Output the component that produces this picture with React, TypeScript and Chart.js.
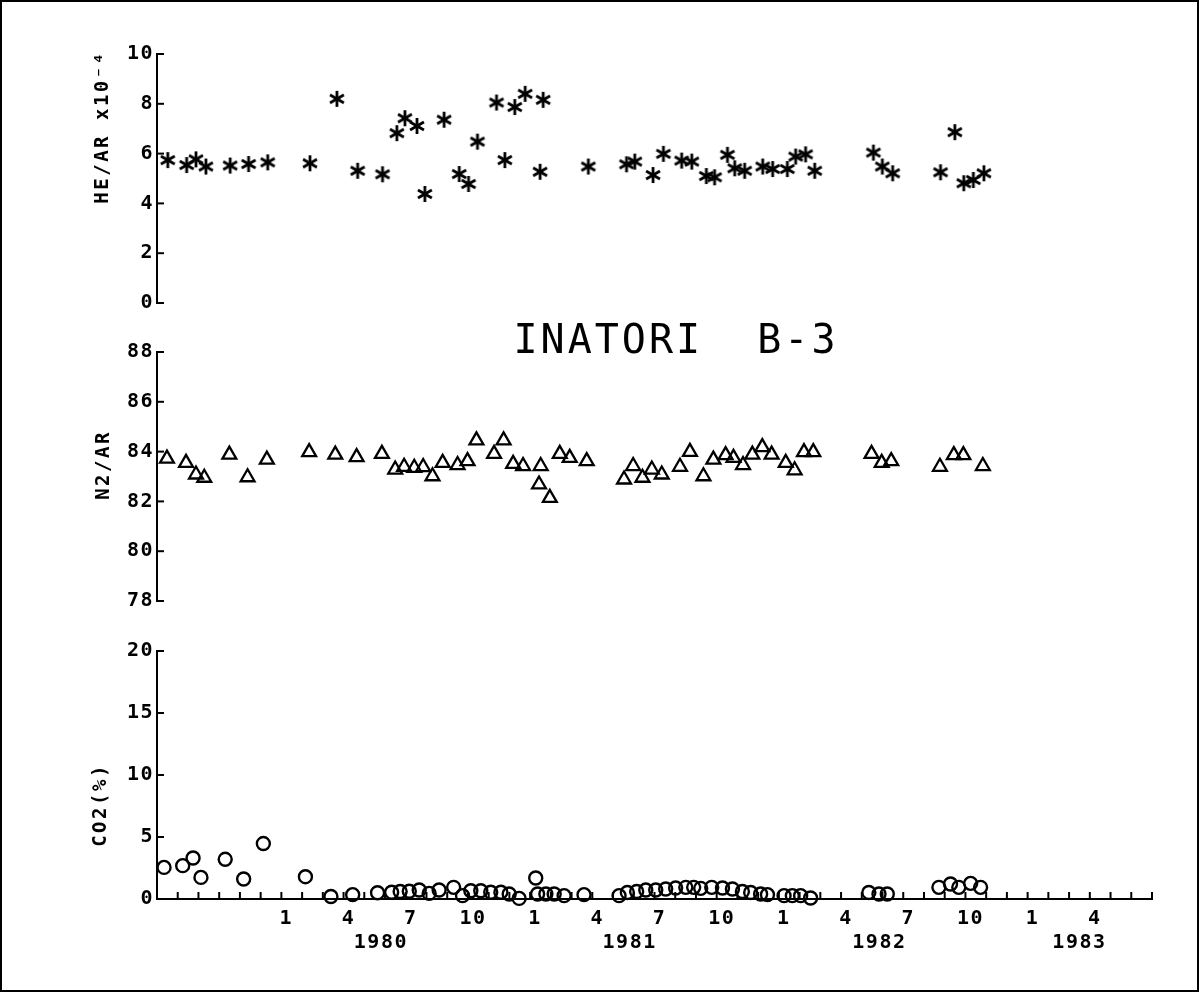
import React, { useEffect, useRef } from 'react';
import { Chart, registerables } from 'chart.js';

Chart.register(...registerables);

// x values are months counted from January 1979 (12 = Jan 1980, 24 = Jan 1981 ...)
const heMonths = [6.52, 7.43, 7.88, 8.36, 9.53, 10.42, 11.34, 13.38, 14.68, 15.68, 16.88, 17.57, 17.96, 18.54, 18.92, 19.85, 20.58, 21.03, 21.46, 22.38, 22.78, 23.26, 23.76, 24.48, 24.63, 26.81, 28.65, 29.05, 29.93, 30.43, 31.31, 31.8, 32.5, 32.9, 33.52, 33.87, 34.35, 35.22, 35.7, 36.41, 36.81, 37.29, 37.73, 40.56, 40.99, 41.49, 43.8, 44.49, 44.92, 45.38, 45.89];
const heRatio = [5.74, 5.54, 5.77, 5.48, 5.52, 5.58, 5.65, 5.61, 8.2, 5.31, 5.17, 6.82, 7.42, 7.11, 4.38, 7.36, 5.18, 4.78, 6.48, 8.05, 5.74, 7.87, 8.4, 5.27, 8.16, 5.48, 5.57, 5.68, 5.14, 5.99, 5.72, 5.68, 5.1, 5.05, 5.95, 5.41, 5.31, 5.48, 5.38, 5.38, 5.88, 5.97, 5.31, 6.04, 5.48, 5.21, 5.25, 6.86, 4.81, 4.94, 5.21];

const n2Months = [6.48, 7.4, 7.88, 8.28, 9.49, 10.37, 11.3, 13.34, 14.6, 15.63, 16.85, 17.49, 17.92, 18.41, 18.84, 19.29, 19.78, 20.5, 20.98, 21.41, 22.26, 22.72, 23.18, 23.66, 24.43, 24.51, 24.95, 25.43, 25.91, 26.73, 28.53, 28.97, 29.42, 29.87, 30.35, 31.23, 31.71, 32.36, 32.84, 33.43, 33.81, 34.27, 34.72, 35.2, 35.65, 36.33, 36.76, 37.21, 37.66, 40.47, 40.96, 41.42, 43.77, 44.44, 44.9, 45.84];
const n2Ratio = [83.72, 83.55, 83.08, 82.95, 83.88, 82.97, 83.68, 83.98, 83.88, 83.78, 83.91, 83.28, 83.39, 83.35, 83.38, 83.01, 83.55, 83.46, 83.62, 84.45, 83.91, 84.45, 83.51, 83.42, 82.68, 83.42, 82.14, 83.91, 83.75, 83.62, 82.88, 83.42, 82.95, 83.28, 83.08, 83.39, 83.99, 83.01, 83.68, 83.86, 83.75, 83.46, 83.88, 84.18, 83.88, 83.55, 83.25, 83.98, 83.98, 83.91, 83.55, 83.62, 83.39, 83.86, 83.86, 83.42];

const co2Months = [6.34, 7.24, 7.74, 8.12, 9.29, 10.18, 11.13, 13.16, 14.39, 15.44, 16.64, 17.32, 17.73, 18.17, 18.65, 19.13, 19.61, 20.31, 20.74, 21.14, 21.62, 22.1, 22.59, 22.99, 23.47, 24.27, 24.36, 24.76, 25.16, 25.64, 26.6, 28.29, 28.69, 29.14, 29.58, 30.06, 30.54, 31.02, 31.51, 31.89, 32.23, 32.76, 33.28, 33.76, 34.24, 34.64, 35.12, 35.45, 36.25, 36.65, 37.05, 37.53, 40.34, 40.83, 41.23, 43.72, 44.28, 44.68, 45.25, 45.73];
const co2Percent = [2.55, 2.69, 3.31, 1.74, 3.2, 1.61, 4.47, 1.8, 0.2, 0.35, 0.5, 0.55, 0.61, 0.62, 0.73, 0.45, 0.73, 0.94, 0.27, 0.67, 0.67, 0.55, 0.55, 0.4, 0.05, 1.69, 0.4, 0.4, 0.4, 0.27, 0.35, 0.27, 0.53, 0.61, 0.73, 0.73, 0.81, 0.89, 0.94, 0.94, 0.86, 0.94, 0.89, 0.81, 0.61, 0.53, 0.4, 0.35, 0.27, 0.27, 0.27, 0.08, 0.53, 0.4, 0.4, 0.94, 1.21, 0.94, 1.26, 0.94];

// one tick per month from Jul 1979 (6) to Jul 1983 (54)
const monthTickLabels = [
  '', '', '', '', '', '',
  '1', '', '', '4', '', '', '7', '', '', '10', '', '',
  '1', '', '', '4', '', '', '7', '', '', '10', '', '',
  '1', '', '', '4', '', '', '7', '', '', '10', '', '',
  '1', '', '', '4', '', '', '',
];
const yearLabels = ['1980', '1981', '1982', '1983'];
const yearLabelMonths = [16.8, 28.8, 40.85, 50.5];

const heTicks = [0, 2, 4, 6, 8, 10];
const n2Ticks = [78, 80, 82, 84, 86, 88];
const co2Ticks = [0, 5, 10, 15, 20];

const X_MIN = 6;
const X_MAX = 54;
const W = 1201;
const H = 997;
const FONT = '"DejaVu Sans Mono", monospace';
const AXIS_LEFT = 157;
const AXIS_RIGHT = 1152;

function makeAsterisk(): HTMLCanvasElement {
  const s = 20;
  const c = document.createElement('canvas');
  c.width = s;
  c.height = s;
  const g = c.getContext('2d')!;
  g.strokeStyle = '#000';
  g.lineWidth = 2.8;
  const r = 8;
  const cx = s / 2;
  const cy = s / 2;
  for (const a of [90, 30, 150]) {
    const rad = (a * Math.PI) / 180;
    g.beginPath();
    g.moveTo(cx - r * Math.cos(rad), cy - r * Math.sin(rad));
    g.lineTo(cx + r * Math.cos(rad), cy + r * Math.sin(rad));
    g.stroke();
  }
  return c;
}

const decorPlugin = {
  id: 'panelDecor',
  beforeDraw(chart: any) {
    chart.ctx.letterSpacing = '1.5px';
  },
  afterDatasetsDraw(chart: any, _args: any, opts: any) {
    const { ctx, chartArea } = chart;
    ctx.save();
    ctx.strokeStyle = '#000';
    ctx.lineWidth = 2;
    const ys = chart.scales.y;
    for (const t of ys.ticks) {
      const py = ys.getPixelForValue(t.value);
      ctx.beginPath();
      ctx.moveTo(chartArea.left, py);
      ctx.lineTo(chartArea.left + 7, py);
      ctx.stroke();
    }
    const xs = chart.scales.x;
    if (xs.options.display) {
      for (const t of xs.ticks) {
        const px = xs.getPixelForValue(t.value);
        ctx.beginPath();
        ctx.moveTo(px, chartArea.bottom);
        ctx.lineTo(px, chartArea.bottom - 7);
        ctx.stroke();
      }
    }
    ctx.translate(opts.titleX, (chartArea.top + chartArea.bottom) / 2 + opts.titleShift);
    ctx.rotate(-Math.PI / 2);
    ctx.font = `bold 19px ${FONT}`;
    ctx.fillStyle = '#000';
    ctx.textAlign = 'center';
    ctx.textBaseline = 'middle';
    ctx.letterSpacing = '2.5px';
    ctx.fillText(opts.title, 0, 0);
    ctx.restore();
  },
};

type Panel = {
  xs: number[];
  ys: number[];
  ticks: number[];
  padTop: number;
  padBottom: number;
  marker: string;
  title: string;
  titleX: number;
  titleShift: number;
  bottom: boolean;
};

const PANELS: Panel[] = [
  { xs: heMonths, ys: heRatio, ticks: heTicks, padTop: 54, padBottom: H - 303, marker: 'asterisk', title: 'HE/AR x10⁻⁴', titleX: 103, titleShift: -51.5, bottom: false },
  { xs: n2Months, ys: n2Ratio, ticks: n2Ticks, padTop: 352, padBottom: H - 601, marker: 'triangle', title: 'N2/AR', titleX: 104, titleShift: -11.5, bottom: false },
  { xs: co2Months, ys: co2Percent, ticks: co2Ticks, padTop: 651, padBottom: 28, marker: 'circle', title: 'CO2(%)', titleX: 101, titleShift: 30, bottom: true },
];

function buildChart(canvas: HTMLCanvasElement, p: Panel) {
  const tickFont = { family: FONT, size: 20, weight: 'bold' as const };
  const scales: any = {
    x: {
      type: 'linear',
      axis: 'x',
      min: X_MIN,
      max: X_MAX,
      display: p.bottom,
      position: 'bottom',
      weight: 0,
      afterBuildTicks: (s: any) => {
        s.ticks = monthTickLabels.map((_l, i) => ({ value: X_MIN + i }));
      },
      grid: { display: false, drawTicks: false, drawOnChartArea: false },
      border: { display: true, color: '#000', width: 2 },
      ticks: {
        autoSkip: false,
        maxRotation: 0,
        minRotation: 0,
        padding: 7.5,
        labelOffset: 5,
        color: '#000',
        font: tickFont,
        callback: (_v: any, i: number) => monthTickLabels[i],
      },
    },
    y: {
      type: 'linear',
      min: p.ticks[0],
      max: p.ticks[p.ticks.length - 1],
      position: 'left',
      afterFit: (s: any) => {
        s.width = AXIS_LEFT;
      },
      afterBuildTicks: (s: any) => {
        s.ticks = p.ticks.map((v) => ({ value: v }));
      },
      grid: { display: false, drawTicks: false, drawOnChartArea: false },
      border: { display: true, color: '#000', width: 2 },
      ticks: {
        padding: 3,
        color: '#000',
        font: tickFont,
        callback: (v: any) => String(v),
      },
    },
  };
  if (p.bottom) {
    scales.x.afterFit = (s: any) => {
      s.height = 30;
    };
    scales.x2 = {
      type: 'linear',
      axis: 'x',
      min: X_MIN,
      max: X_MAX,
      position: 'bottom',
      weight: 1,
      afterBuildTicks: (s: any) => {
        s.ticks = yearLabelMonths.map((v) => ({ value: v }));
      },
      afterFit: (s: any) => {
        s.height = 40;
      },
      grid: { display: false, drawTicks: false, drawOnChartArea: false },
      border: { display: false },
      ticks: {
        autoSkip: false,
        maxRotation: 0,
        minRotation: 0,
        padding: 2,
        color: '#000',
        font: tickFont,
        callback: (_v: any, i: number) => yearLabels[i],
      },
    };
  }

  const pointStyle: any = p.marker === 'asterisk' ? makeAsterisk() : p.marker;
  const radius = p.marker === 'asterisk' ? 8 : p.marker === 'triangle' ? 8 : 6.5;
  const bw = p.marker === 'circle' ? 2.4 : 2.3;

  return new Chart(canvas, {
    type: 'scatter',
    data: {
      datasets: [
        {
          data: p.xs.map((x, i) => ({ x, y: p.ys[i] })),
          xAxisID: 'x',
          yAxisID: 'y',
          pointStyle,
          pointRadius: radius,
          pointBorderWidth: bw,
          pointBorderColor: '#000',
          pointBackgroundColor: 'rgba(0,0,0,0)',
          showLine: false,
          clip: false,
        } as any,
      ],
    },
    options: {
      responsive: false,
      animation: false,
      devicePixelRatio: 1,
      events: [],
      layout: { padding: { left: 0, right: W - AXIS_RIGHT, top: p.padTop, bottom: p.padBottom } },
      scales,
      plugins: {
        legend: { display: false },
        tooltip: { enabled: false },
        panelDecor: { title: p.title, titleX: p.titleX, titleShift: p.titleShift },
      } as any,
    },
    plugins: [decorPlugin as any],
  });
}

export default function App() {
  const r0 = useRef<HTMLCanvasElement>(null);
  const r1 = useRef<HTMLCanvasElement>(null);
  const r2 = useRef<HTMLCanvasElement>(null);

  useEffect(() => {
    const refs = [r0, r1, r2];
    const charts = PANELS.map((p, i) => buildChart(refs[i].current!, p));
    return () => charts.forEach((c) => c.destroy());
  }, []);

  const canvasStyle: React.CSSProperties = { position: 'absolute', left: 0, top: 0, width: W, height: H };

  return (
    <div style={{ position: 'fixed', left: 0, top: 0, width: W, height: H, background: '#fff', overflow: 'hidden' }}>
      <div
        style={{
          position: 'absolute',
          left: 0,
          top: 0,
          width: 1199,
          height: 992,
          border: '2px solid #000',
          boxSizing: 'border-box',
        }}
      />
      <canvas ref={r0} width={W} height={H} style={canvasStyle} />
      <canvas ref={r1} width={W} height={H} style={canvasStyle} />
      <canvas ref={r2} width={W} height={H} style={canvasStyle} />
      <div
        style={{
          position: 'absolute',
          left: 676,
          top: 339,
          transform: 'translate(-50%, -50%)',
          fontFamily: FONT,
          fontSize: 40,
          lineHeight: '40px',
          letterSpacing: '3px',
          whiteSpace: 'pre',
          color: '#000',
        }}
      >
        INATORI  B-3
      </div>
    </div>
  );
}
